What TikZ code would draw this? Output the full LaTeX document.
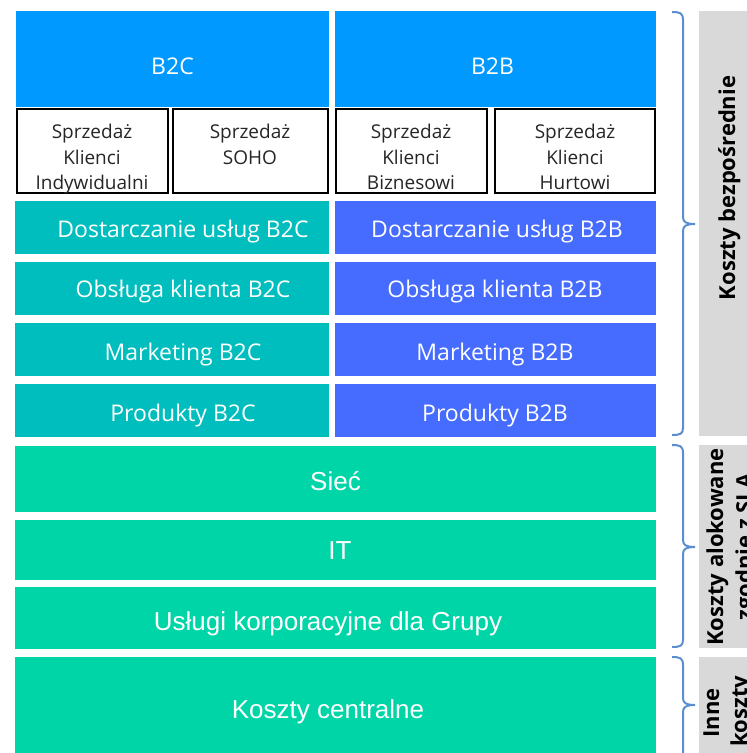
\documentclass[tikz,border=0pt]{standalone}
\usepackage{fontspec}
\setmainfont{Open Sans}
\newfontfamily\arialfont{Liberation Sans}
\usetikzlibrary{fit}
\definecolor{topblue}{HTML}{0099FF}
\definecolor{tealc}{HTML}{00BEBE}
\definecolor{blueb}{HTML}{466CFF}
\definecolor{greenc}{HTML}{00D5A8}
\definecolor{grayc}{HTML}{D9D9D9}
\definecolor{bracec}{HTML}{5B8ED0}
\definecolor{darktext}{HTML}{262626}
\begin{document}
\begin{tikzpicture}[x=1pt,y=-1pt,
  blk/.style={inner sep=0pt, outer sep=0pt},
  salebox/.style={blk, draw=black, line width=2pt, fill=white},
  whitetxt/.style={text=white, font=\fontsize{23}{27}\selectfont, inner sep=0pt, anchor=base},
  saletxt/.style={text=darktext, font=\fontsize{19}{25}\selectfont, inner sep=0pt, anchor=base},
  greentxt/.style={text=white, font=\arialfont\fontsize{26}{30}\selectfont, inner sep=0pt, anchor=base},
  glabel/.style={text=black, font=\bfseries\fontsize{22}{28}\selectfont, inner sep=0pt, anchor=base, rotate=90},
  bracestyle/.style={draw=bracec, line width=2pt}
]
\useasboundingbox (0,0) rectangle (747,753);
\clip (0,0) rectangle (747,753);

% top blocks
\node[blk, fill=topblue, fit={(16,11) (329,107)}] (b2c) {};
\node[blk, fill=topblue, fit={(335,11) (656,107)}] (b2b) {};
\node[whitetxt] (b2ct) at (172.5,74) {B2C};
\node[whitetxt] (b2bt) at (492.5,74) {B2B};

% sales boxes
\node[salebox, fit={(17,109) (168,193)}] (s1) {};
\node[salebox, fit={(173,109) (328,193)}] (s2) {};
\node[salebox, fit={(336,109) (487,193)}] (s3) {};
\node[salebox, fit={(495,109) (655,193)}] (s4) {};
\node[saletxt] (s1a) at (92,138) {Sprzedaż};
\node[saletxt] (s1b) at (92,164) {Klienci};
\node[saletxt] (s1c) at (92,189.5) {Indywidualni};
\node[saletxt] (s2a) at (250,138) {Sprzedaż};
\node[saletxt] (s2b) at (250,164) {SOHO};
\node[saletxt] (s3a) at (411,138) {Sprzedaż};
\node[saletxt] (s3b) at (411,164) {Klienci};
\node[saletxt] (s3c) at (411,189.5) {Biznesowi};
\node[saletxt] (s4a) at (575,138) {Sprzedaż};
\node[saletxt] (s4b) at (575,164) {Klienci};
\node[saletxt] (s4c) at (575,189.5) {Hurtowi};

% teal / blue rows
\node[blk, fill=tealc, fit={(15,201) (329,254)}] (t1) {};
\node[blk, fill=tealc, fit={(15,262) (329,315)}] (t2) {};
\node[blk, fill=tealc, fit={(15,323) (329,376)}] (t3) {};
\node[blk, fill=tealc, fit={(15,384) (329,437)}] (t4) {};
\node[blk, fill=blueb, fit={(335,201) (656,254)}] (u1) {};
\node[blk, fill=blueb, fit={(335,262) (656,315)}] (u2) {};
\node[blk, fill=blueb, fit={(335,323) (656,376)}] (u3) {};
\node[blk, fill=blueb, fit={(335,384) (656,437)}] (u4) {};
\node[whitetxt] (t1t) at (183,237) {Dostarczanie usług B2C};
\node[whitetxt] (t2t) at (183,297) {Obsługa klienta B2C};
\node[whitetxt] (t3t) at (183,360) {Marketing B2C};
\node[whitetxt] (t4t) at (183,421) {Produkty B2C};
\node[whitetxt] (u1t) at (497,237) {Dostarczanie usług B2B};
\node[whitetxt] (u2t) at (495,297) {Obsługa klienta B2B};
\node[whitetxt] (u3t) at (495,360) {Marketing B2B};
\node[whitetxt] (u4t) at (495,421) {Produkty B2B};

% green rows
\node[blk, fill=greenc, fit={(15,446) (656,512)}] (g1) {};
\node[blk, fill=greenc, fit={(15,520) (656,580)}] (g2) {};
\node[blk, fill=greenc, fit={(15,587) (656,649)}] (g3) {};
\node[blk, fill=greenc, fit={(15,657) (656,760)}] (g4) {};
\node[greentxt] (g1t) at (335.5,490) {Sieć};
\node[greentxt] (g2t) at (340,559) {IT};
\node[greentxt] (g3t) at (328,630) {Usługi korporacyjne dla Grupy};
\node[greentxt] (g4t) at (328,718) {Koszty centralne};

% gray label boxes
\node[blk, fill=grayc, fit={(699,11) (765,436)}] (gr1) {};
\node[blk, fill=grayc, fit={(699,445) (765,648)}] (gr2) {};
\node[blk, fill=grayc, fit={(699,657) (765,760)}] (gr3) {};
\node[glabel] (l1) at (735,188) {Koszty bezpośrednie};
\node[glabel] (l2a) at (723,547) {Koszty alokowane};
\node[glabel] (l2b) at (752,547) {zgodnie z SLA};
\node[glabel] (l3a) at (719,713) {Inne};
\node[glabel] (l3b) at (747,711) {koszty};

% braces
\draw[bracestyle] (672,12) .. controls (680,12) and (683,13) .. (683,20) -- (683,217)
  .. controls (683,222) and (686,224) .. (695,224)
  .. controls (686,224) and (683,226) .. (683,231) -- (683,428)
  .. controls (683,434) and (680,435) .. (672,435);
\draw[bracestyle] (672,445) .. controls (680,445) and (683,446) .. (683,453) -- (683,540)
  .. controls (683,545) and (686,547) .. (695,547)
  .. controls (686,547) and (683,549) .. (683,554) -- (683,640)
  .. controls (683,646) and (680,647) .. (672,647);
\draw[bracestyle] (672,657) .. controls (680,657) and (683,658) .. (683,665) -- (683,698)
  .. controls (683,703) and (686,705) .. (695,705)
  .. controls (686,705) and (683,707) .. (683,712) -- (683,760);
\end{tikzpicture}
\end{document}
